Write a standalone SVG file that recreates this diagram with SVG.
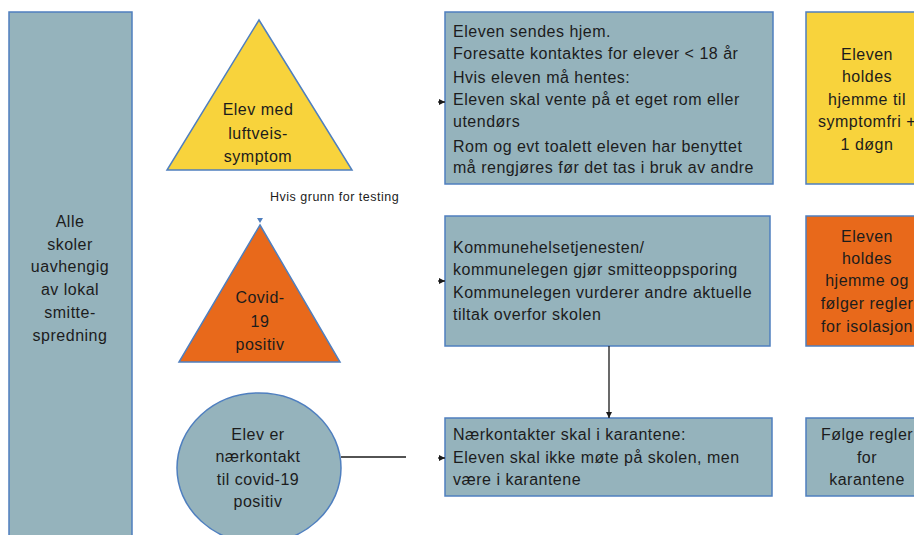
<svg xmlns="http://www.w3.org/2000/svg" width="914" height="535" viewBox="0 0 914 535">
<defs>
<style>
.bg{fill:#95b3bc;stroke:#4f7fbf;stroke-width:1.5}
.yl{fill:#f8d33c;stroke:#4f7fbf;stroke-width:1.5}
.or{fill:#e8691b;stroke:#4f7fbf;stroke-width:1.5}
text{font-family:"Liberation Sans",Arial,sans-serif;font-size:16px;letter-spacing:0.5px;fill:#1c1c1c}
.c{text-anchor:middle}
.conn{stroke:#1a1a1a;stroke-width:1.3;fill:none}
</style>
<marker id="ah" viewBox="0 0 10 10" refX="10" refY="5" markerWidth="6" markerHeight="6" orient="auto" markerUnits="userSpaceOnUse">
<path d="M0,0 L10,5 L0,10 z" fill="#1a1a1a"/>
</marker>
</defs>
<rect width="914" height="535" fill="#ffffff"/>

<g id="alle-skoler">
<rect class="bg" x="9" y="12" width="123" height="530"/>
<text class="c" x="70" y="227">Alle</text>
<text class="c" x="70" y="250">skoler</text>
<text class="c" x="70" y="272">uavhengig</text>
<text class="c" x="70" y="295">av lokal</text>
<text class="c" x="70" y="318">smitte-</text>
<text class="c" x="70" y="341">spredning</text>
</g>

<g id="elev-luftveis">
<polygon class="yl" points="259,20 352,170 167,170"/>
<text class="c" x="258" y="115">Elev med</text>
<text class="c" x="258" y="139">luftveis-</text>
<text class="c" x="258" y="162">symptom</text>
</g>

<g id="covid-positiv">
<polygon class="or" points="260,225 340,362 179,362"/>
<text class="c" x="260" y="303">Covid-</text>
<text class="c" x="260" y="327">19</text>
<text class="c" x="260" y="350">positiv</text>
</g>

<g id="naerkontakt">
<ellipse class="bg" cx="259" cy="468" rx="82" ry="75"/>
<text class="c" x="258" y="440">Elev er</text>
<text class="c" x="258" y="462">nærkontakt</text>
<text class="c" x="258" y="485">til covid-19</text>
<text class="c" x="258" y="507">positiv</text>
</g>

<g id="box-sendes-hjem">
<rect class="bg" x="445" y="12" width="328" height="172"/>
<text x="453" y="37">Eleven sendes hjem.</text>
<text x="453" y="59">Foresatte kontaktes for elever &lt; 18 år</text>
<text x="453" y="83">Hvis eleven må hentes:</text>
<text x="453" y="105">Eleven skal vente på et eget rom eller</text>
<text x="453" y="127">utendørs</text>
<text x="453" y="152">Rom og evt toalett eleven har benyttet</text>
<text x="453" y="173">må rengjøres før det tas i bruk av andre</text>
</g>

<g id="box-smitteoppsporing">
<rect class="bg" x="445" y="216" width="325" height="130"/>
<text x="453" y="253">Kommunehelsetjenesten/</text>
<text x="453" y="275">kommunelegen gjør smitteoppsporing</text>
<text x="453" y="298">Kommunelegen vurderer andre aktuelle</text>
<text x="453" y="320">tiltak overfor skolen</text>
</g>

<g id="box-karantene">
<rect class="bg" x="445" y="418" width="327" height="78"/>
<text x="453" y="440">Nærkontakter skal i karantene:</text>
<text x="453" y="463">Eleven skal ikke møte på skolen, men</text>
<text x="453" y="485">være i karantene</text>
</g>

<g id="right-symptomfri">
<rect class="yl" x="806" y="12" width="120" height="172"/>
<text class="c" x="867" y="60">Eleven</text>
<text class="c" x="867" y="82">holdes</text>
<text class="c" x="867" y="105">hjemme til</text>
<text class="c" x="867" y="127">symptomfri +</text>
<text class="c" x="867" y="150">1 døgn</text>
</g>

<g id="right-isolasjon">
<rect class="or" x="806" y="216" width="120" height="130"/>
<text class="c" x="867" y="242">Eleven</text>
<text class="c" x="867" y="264">holdes</text>
<text class="c" x="867" y="286">hjemme og</text>
<text class="c" x="867" y="309">følger regler</text>
<text class="c" x="867" y="332">for isolasjon</text>
</g>

<g id="right-karantene">
<rect class="bg" x="806" y="418" width="120" height="78"/>
<text class="c" x="867" y="440">Følge regler</text>
<text class="c" x="867" y="463">for</text>
<text class="c" x="867" y="485">karantene</text>
</g>

<g id="connectors">
<line class="conn" x1="438" y1="102" x2="445" y2="102" marker-end="url(#ah)"/>
<line class="conn" x1="438" y1="281" x2="445" y2="281" marker-end="url(#ah)"/>
<line class="conn" x1="341" y1="457" x2="406" y2="457"/>
<line class="conn" x1="438" y1="458" x2="445" y2="458" marker-end="url(#ah)"/>
<line class="conn" x1="609" y1="346" x2="609" y2="418" marker-end="url(#ah)"/>
<polygon points="257,218 263,218 260,223" fill="#4f7fbf"/>
<text x="270" y="201" style="font-size:12.5px">Hvis grunn for testing</text>
</g>
</svg>
